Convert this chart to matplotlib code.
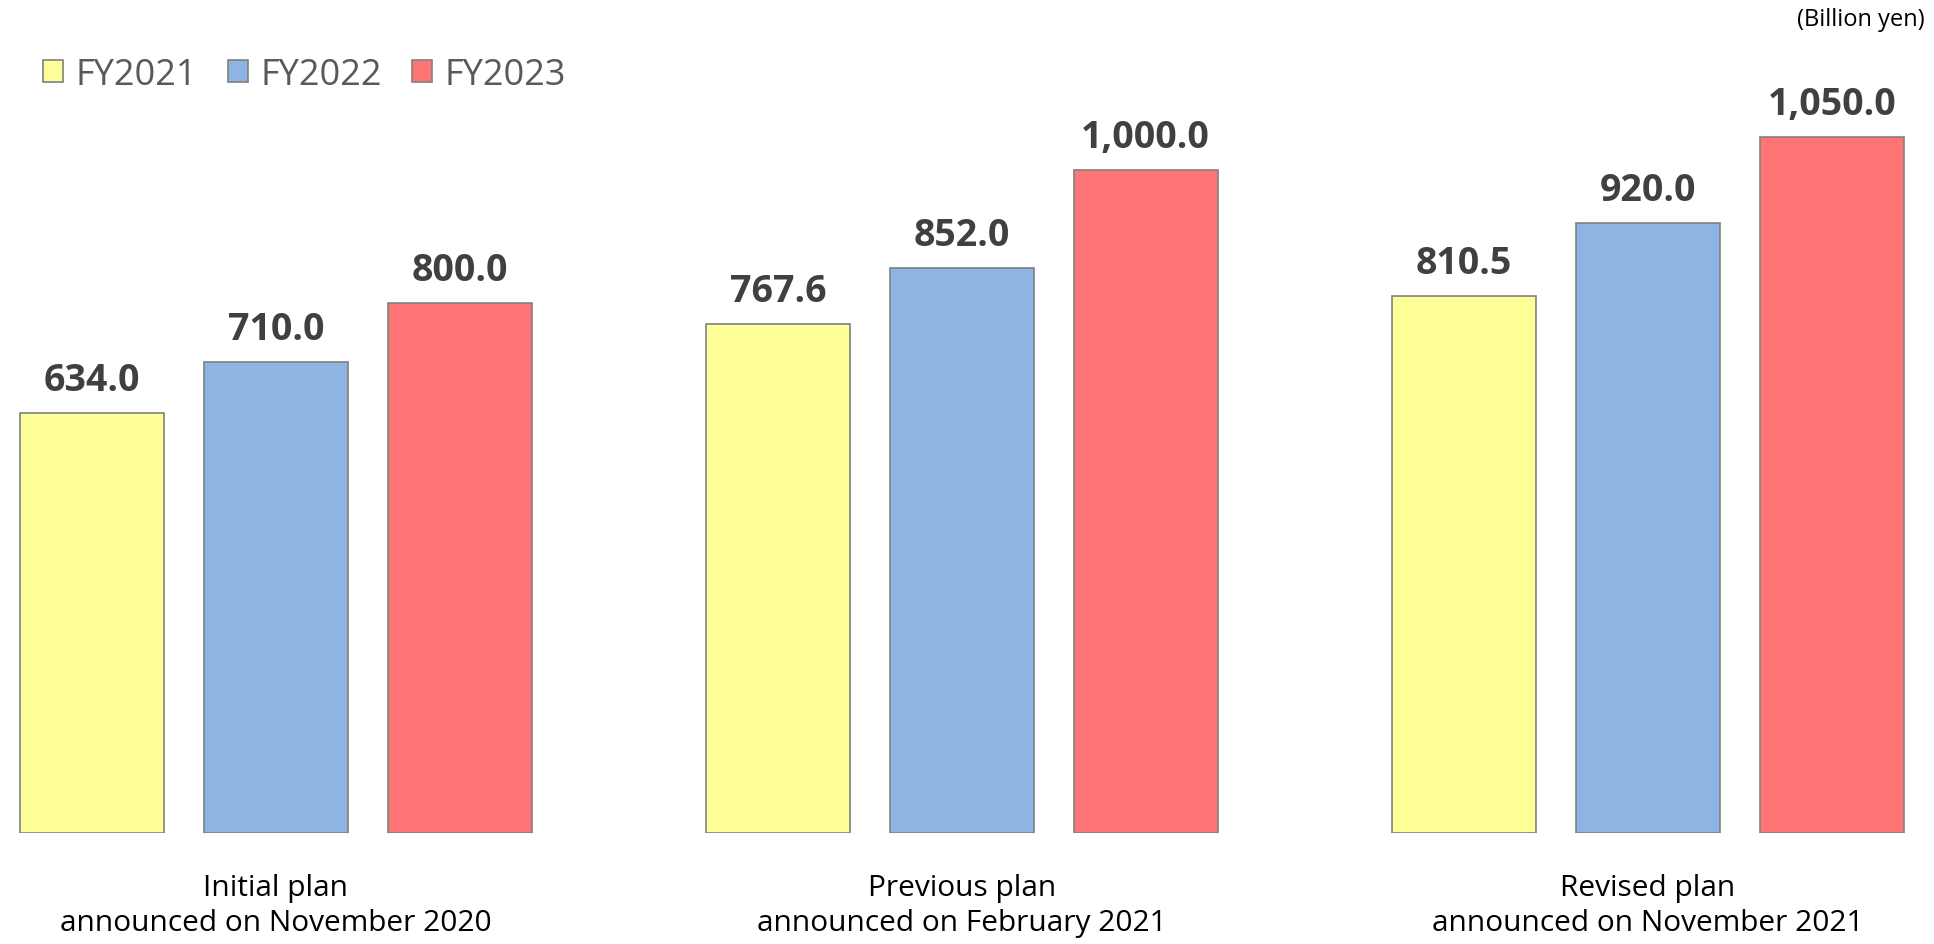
import matplotlib.pyplot as plt
import numpy as np
from matplotlib.patches import Patch

plt.rcParams["font.family"] = ["Open Sans", "DejaVu Sans"]

plans = ["Initial plan\nannounced on November 2020",
         "Previous plan\nannounced on February 2021",
         "Revised plan\nannounced on November 2021"]
years = ["FY2021", "FY2022", "FY2023"]
fy2021 = [634.0, 767.6, 810.5]
fy2022 = [710.0, 852.0, 920.0]
fy2023 = [800.0, 1000.0, 1050.0]
colors = ["#FFFF99", "#8EB4E3", "#FF7575"]

fig = plt.figure(figsize=(19.34, 9.45), dpi=100)
ax = fig.add_axes([0, 0.1175, 1, 0.8825])

x = np.arange(len(plans))
step = 0.268
width = 0.21
for i, vals in enumerate([fy2021, fy2022, fy2023]):
    bars = ax.bar(x + (i - 1) * step, vals, width, color=colors[i],
                  edgecolor="#808080", linewidth=1.2)
    for b, v in zip(bars, vals):
        ax.annotate(f"{v:,.1f}", (b.get_x() + b.get_width() / 2, v),
                    xytext=(0, 10), textcoords="offset points",
                    ha="center", va="bottom", fontsize=27,
                    fontweight="bold", color="#404040")

ax.set_xlim(-0.402, 2.417)
ax.set_ylim(0, 1258)
ax.set_yticks([])
ax.set_xticks(x)
ax.set_xticklabels(plans, fontsize=21.5, linespacing=1.25)
ax.tick_params(axis="x", length=0, pad=29)
for s in ax.spines.values():
    s.set_visible(False)

handles = [Patch(facecolor=c, edgecolor="#808080", linewidth=1.2) for c in colors]
fig.legend(handles, years, loc="center left", bbox_to_anchor=(0.0222, 0.920),
           ncol=3, frameon=False, fontsize=26, borderpad=0, borderaxespad=0,
           handlelength=0.55, handleheight=0.55, handletextpad=0.35,
           columnspacing=0.85, labelcolor="#595959")

fig.text(0.995, 0.979, "(Billion yen)", ha="right", va="center",
         fontsize=17, color="#000000")

plt.savefig("out.png", dpi=100)
